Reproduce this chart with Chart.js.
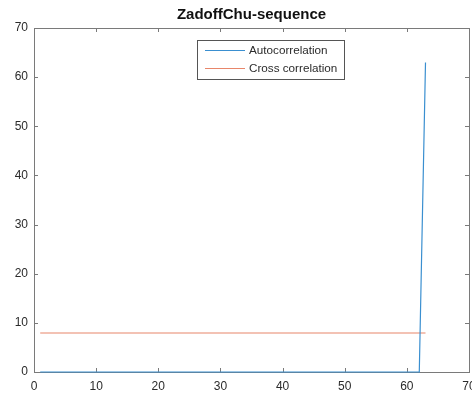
<!DOCTYPE html>
<html>
<head>
<meta charset="utf-8">
<script src="https://cdn.jsdelivr.net/npm/chart.js@4/dist/chart.umd.min.js"></script>
<style>
  html, body { margin: 0; padding: 0; background: #fff; }
  #wrap { width: 472px; height: 394px; }
</style>
</head>
<body>
<div id="wrap"><canvas id="chart-zc"></canvas></div>
<script>
// sample index (lag) of the sequence
const lags = [
    1, 2, 3, 4, 5, 6, 7, 8, 9, 10, 11, 12, 13, 14, 15, 16, 17, 18, 19, 20,
    21, 22, 23, 24, 25, 26, 27, 28, 29, 30, 31, 32, 33, 34, 35, 36, 37, 38, 39, 40,
    41, 42, 43, 44, 45, 46, 47, 48, 49, 50, 51, 52, 53, 54, 55, 56, 57, 58, 59, 60,
    61, 62, 63
];

const autoCorr = [
    0, 0, 0, 0, 0, 0, 0, 0, 0, 0, 0, 0, 0, 0, 0, 0, 0, 0, 0, 0,
    0, 0, 0, 0, 0, 0, 0, 0, 0, 0, 0, 0, 0, 0, 0, 0, 0, 0, 0, 0,
    0, 0, 0, 0, 0, 0, 0, 0, 0, 0, 0, 0, 0, 0, 0, 0, 0, 0, 0, 0,
    0, 0, 63
];

const crossCorr = [
    7.94, 7.94, 7.94, 7.94, 7.94, 7.94, 7.94, 7.94, 7.94, 7.94,
    7.94, 7.94, 7.94, 7.94, 7.94, 7.94, 7.94, 7.94, 7.94, 7.94,
    7.94, 7.94, 7.94, 7.94, 7.94, 7.94, 7.94, 7.94, 7.94, 7.94,
    7.94, 7.94, 7.94, 7.94, 7.94, 7.94, 7.94, 7.94, 7.94, 7.94,
    7.94, 7.94, 7.94, 7.94, 7.94, 7.94, 7.94, 7.94, 7.94, 7.94,
    7.94, 7.94, 7.94, 7.94, 7.94, 7.94, 7.94, 7.94, 7.94, 7.94,
    7.94, 7.94, 7.94
];

const xTicks = [0, 10, 20, 30, 40, 50, 60, 70];
const yTicks = [0, 10, 20, 30, 40, 50, 60, 70];

const AXIS_COLOR = '#7a7a7a';
const TEXT_COLOR = '#2b2b2b';
const FONT = 'Liberation Sans, Arial, sans-serif';

// centre the title over the axes instead of the whole canvas
const titleOverAxes = {
    id: 'titleOverAxes',
    afterLayout(chart) {
        if (chart.titleBlock) {
            chart.titleBlock.left = chart.chartArea.left;
            chart.titleBlock.right = chart.chartArea.right;
        }
    }
};

// box around the axes with inward tick marks, like a matlab plot
const boxAxes = {
    id: 'boxAxes',
    beforeDatasetsDraw(chart) {
        const { ctx, chartArea: a, scales } = chart;
        ctx.save();
        ctx.strokeStyle = AXIS_COLOR;
        ctx.lineWidth = 1;
        ctx.strokeRect(Math.round(a.left) + 0.5, Math.round(a.top) + 0.5,
            Math.round(a.right - a.left), Math.round(a.bottom - a.top));
        const len = 4;
        ctx.beginPath();
        xTicks.forEach(v => {
            const px = Math.round(scales.x.getPixelForValue(v)) + 0.5;
            ctx.moveTo(px, a.bottom); ctx.lineTo(px, a.bottom - len);
            ctx.moveTo(px, a.top); ctx.lineTo(px, a.top + len);
        });
        yTicks.forEach(v => {
            const py = Math.round(scales.y.getPixelForValue(v)) + 0.5;
            ctx.moveTo(a.left, py); ctx.lineTo(a.left + len, py);
            ctx.moveTo(a.right, py); ctx.lineTo(a.right - len, py);
        });
        ctx.stroke();
        ctx.restore();
    }
};

// legend box inside the plot, near the top centre
const insideLegend = {
    id: 'insideLegend',
    afterDraw(chart) {
        const { ctx } = chart;
        const x0 = 197.5, y0 = 40.5, w = 147, h = 39;
        ctx.save();
        ctx.fillStyle = '#fff';
        ctx.fillRect(x0, y0, w, h);
        ctx.strokeStyle = '#555';
        ctx.lineWidth = 1;
        ctx.strokeRect(x0, y0, w, h);
        ctx.font = '11.7px ' + FONT;
        ctx.textBaseline = 'middle';
        chart.data.datasets.forEach((ds, i) => {
            const y = y0 + 10 + i * 18;
            ctx.strokeStyle = ds.borderColor;
            ctx.lineWidth = 1.2;
            ctx.beginPath();
            ctx.moveTo(205, y);
            ctx.lineTo(245, y);
            ctx.stroke();
            ctx.fillStyle = TEXT_COLOR;
            ctx.fillText(ds.label, 249, y);
        });
        ctx.restore();
    }
};

new Chart(document.getElementById('chart-zc'), {
    type: 'line',
    data: {
        labels: lags,
        datasets: [{
            label: 'Autocorrelation',
            data: autoCorr,
            borderColor: '#3a8fd0',
            borderWidth: 1.2,
            pointRadius: 0,
            tension: 0,
            clip: 4
        }, {
            label: 'Cross correlation',
            data: crossCorr,
            borderColor: '#e8866a',
            borderWidth: 1.2,
            pointRadius: 0,
            tension: 0,
            clip: 4
        }]
    },
    options: {
        responsive: true,
        maintainAspectRatio: false,
        animation: false,
        layout: { padding: { left: 0, right: 3, top: 0, bottom: 0 } },
        plugins: {
            legend: { display: false },
            tooltip: { enabled: false },
            title: {
                display: true,
                text: 'ZadoffChu-sequence',
                color: '#111',
                font: { family: FONT, size: 15, weight: 'bold' },
                padding: { top: 6, bottom: 4 }
            }
        },
        scales: {
            x: {
                type: 'linear',
                min: 0,
                max: 70,
                afterBuildTicks: s => { s.ticks = xTicks.map(v => ({ value: v })); },
                afterFit: s => { s.height = 22; s.paddingLeft = 0; s.paddingRight = 0; },
                grid: { display: false, drawTicks: false },
                border: { display: false },
                ticks: {
                    color: TEXT_COLOR,
                    font: { family: FONT, size: 12 },
                    padding: 7,
                    maxRotation: 0
                }
            },
            y: {
                min: 0,
                max: 70,
                afterBuildTicks: s => { s.ticks = yTicks.map(v => ({ value: v })); },
                afterFit: s => { s.width = 34; s.paddingTop = 0; s.paddingBottom = 0; },
                grid: { display: false, drawTicks: false },
                border: { display: false },
                ticks: {
                    color: TEXT_COLOR,
                    font: { family: FONT, size: 12 },
                    padding: 6
                }
            }
        }
    },
    plugins: [titleOverAxes, boxAxes, insideLegend]
});
</script>
</body>
</html>
